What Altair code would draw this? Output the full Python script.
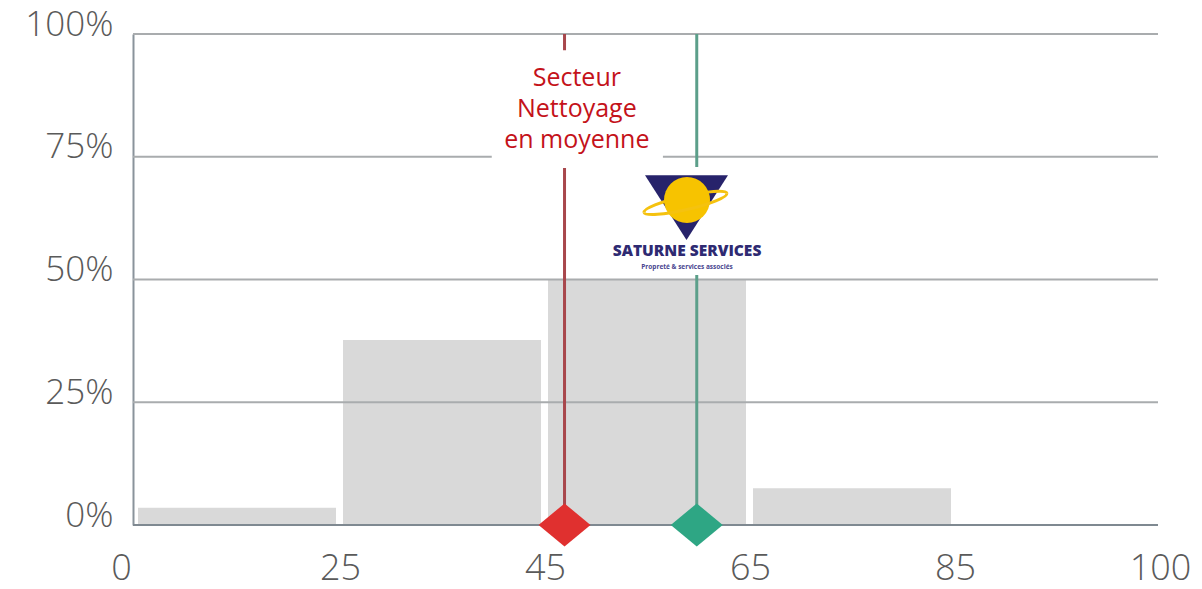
import altair as alt
import pandas as pd

# ---- data ----
bin_start = [0, 25, 45, 65, 85]
bin_end = [25, 45, 65, 85, 100]
share = [0.035, 0.377, 0.50, 0.075, 0.0]

x_ticks = [0, 25, 45, 65, 85, 100]
y_ticks = [0.0, 0.25, 0.5, 0.75, 1.0]

sector_avg = 47.1      # Secteur Nettoyage en moyenne
company_val = 60.0     # Saturne Services

label_lines = ["Secteur", "Nettoyage", "en moyenne"]
logo_title = "SATURNE SERVICES"
logo_sub = "Propreté & services associés"

FONT = "Open Sans"

x_scale = alt.Scale(domain=x_ticks, range=[0, 205, 410, 615, 820, 1025])
y_scale = alt.Scale(domain=[0, 1], nice=False, zero=True)

x_axis = alt.Axis(values=x_ticks, grid=False, ticks=False, tickSize=0,
                  domain=False, labelFont=FONT, labelFontSize=36,
                  labelFontWeight=300, labelColor="#5a5a5a",
                  labelBaseline="alphabetic", labelPadding=54,
                  labelOffset={"condition": {"test": "datum.value == 0", "value": -12}, "value": 2},
                  labelFlush=False, labelOverlap=False, title=None)
y_axis = alt.Axis(values=y_ticks, format=".0%", grid=False, ticks=False,
                  tickSize=0, domain=True, domainColor="#8a939b",
                  domainWidth=2, labelFont=FONT, labelFontSize=35,
                  labelFontWeight=300, labelColor="#5a5a5a",
                  labelBaseline="alphabetic", labelPadding=20,
                  labelOffset=1, title=None)


def X(f):
    return alt.X(f, scale=x_scale, axis=x_axis, title=None)


def Y(f):
    return alt.Y(f, scale=y_scale, axis=y_axis, title=None)


bars_df = pd.DataFrame({"x": bin_start, "x2": bin_end, "y": share})
bars = alt.Chart(bars_df).mark_bar(color="#d9d9d9", xOffset=5, x2Offset=-2).encode(
    x=X("x:Q"), x2="x2:Q", y=Y("y:Q"), y2=alt.datum(0),
)

grid_df = pd.DataFrame({"y": y_ticks[1:]})
grid = alt.Chart(grid_df).mark_rule(color="#a9acae", strokeWidth=2).encode(y=Y("y:Q"))
zero_df = pd.DataFrame({"y": [0.0]})
zero = alt.Chart(zero_df).mark_rule(color="#7f8991", strokeWidth=2).encode(y=Y("y:Q"))

vlines_df = pd.DataFrame({"x": [sector_avg, company_val],
                          "c": ["#a8474c", "#5c9f8a"]})
vlines = alt.Chart(vlines_df).mark_rule(strokeWidth=3).encode(
    x=X("x:Q"), color=alt.Color("c:N", scale=None),
)

# annotation box + text
box_df = pd.DataFrame({"x": [40.0], "x2": [56.7], "y": [0.967], "y2": [0.727]})
tbox = alt.Chart(box_df).mark_rect(color="white").encode(
    x=X("x:Q"), x2="x2:Q", y=Y("y:Q"), y2="y2:Q",
)
txt_df = pd.DataFrame({"x": [48.3], "y": [0.894], "t": [label_lines]})
txt = alt.Chart(txt_df).mark_text(font=FONT, fontSize=25, color="#c4121a",
                                  align="center", baseline="alphabetic",
                                  lineHeight=31).encode(
    x=X("x:Q"), y=Y("y:Q"), text="t",
)

# logo
lbox_df = pd.DataFrame({"x": [52.0], "x2": [66.2], "y": [0.729], "y2": [0.509]})
lbox = alt.Chart(lbox_df).mark_rect(color="white").encode(
    x=X("x:Q"), x2="x2:Q", y=Y("y:Q"), y2="y2:Q",
)
logo_pt = pd.DataFrame({"x": [59.0], "y": [0.6466]})
tri = alt.Chart(logo_pt).mark_point(shape="M-1,-0.78L1,-0.78L0,0.78Z", filled=True,
                                    size=6889, color="#27236b", opacity=1).encode(
    x=X("x:Q"), y=Y("y:Q"),
)
orb_pt = pd.DataFrame({"x": [58.9], "y": [0.656]})
orbit_back = alt.Chart(orb_pt).mark_point(
    shape="M-1,0A1,0.16 0 0,1 1,0", filled=False, size=7225,
    color="#f5c20f", strokeWidth=3, angle=347, opacity=1).encode(
    x=X("x:Q"), y=Y("y:Q"),
)
sun_pt = pd.DataFrame({"x": [59.05], "y": [0.662]})
sun = alt.Chart(sun_pt).mark_point(shape="circle", filled=True, size=2116,
                                   color="#f7c300", opacity=1).encode(
    x=X("x:Q"), y=Y("y:Q"),
)
orbit_front = alt.Chart(orb_pt).mark_point(
    shape="M-1,0A1,0.16 0 0,0 1,0", filled=False, size=7225,
    color="#f5c20f", strokeWidth=3, angle=347, opacity=1).encode(
    x=X("x:Q"), y=Y("y:Q"),
)
ltitle_df = pd.DataFrame({"x": [59.05], "y": [0.548], "t": [logo_title]})
ltitle = alt.Chart(ltitle_df).mark_text(font=FONT, fontSize=15.5, fontWeight=800,
                                        color="#2e2a72", align="center",
                                        baseline="alphabetic").encode(
    x=X("x:Q"), y=Y("y:Q"), text="t",
)
lsub_df = pd.DataFrame({"x": [59.05], "y": [0.522], "t": [logo_sub]})
lsub = alt.Chart(lsub_df).mark_text(font=FONT, fontSize=6.5, fontWeight=700,
                                    color="#4a4690", align="center",
                                    baseline="alphabetic").encode(
    x=X("x:Q"), y=Y("y:Q"), text="t",
)

# diamonds at the base
dia_df = pd.DataFrame({"x": [sector_avg, company_val], "y": [0.0, 0.0],
                       "c": ["#e0302f", "#2ea684"]})
diamonds = alt.Chart(dia_df).mark_point(shape="M0,-0.83L1,0L0,0.83L-1,0Z",
                                        filled=True, size=2700, opacity=1).encode(
    x=X("x:Q"), y=Y("y:Q"), color=alt.Color("c:N", scale=None),
)

chart = alt.layer(
    bars, grid, zero, vlines, tbox, txt, lbox, tri, orbit_back, sun, orbit_front,
    ltitle, lsub, diamonds
).properties(
    width=1025, height=491,
    padding={"left": 125, "top": 26, "right": 36, "bottom": 62},
    autosize=alt.AutoSizeParams(type="none"),
    background="white",
).configure_view(stroke=None)

chart.save("out.html", embed_options={"renderer": "svg", "actions": False})
